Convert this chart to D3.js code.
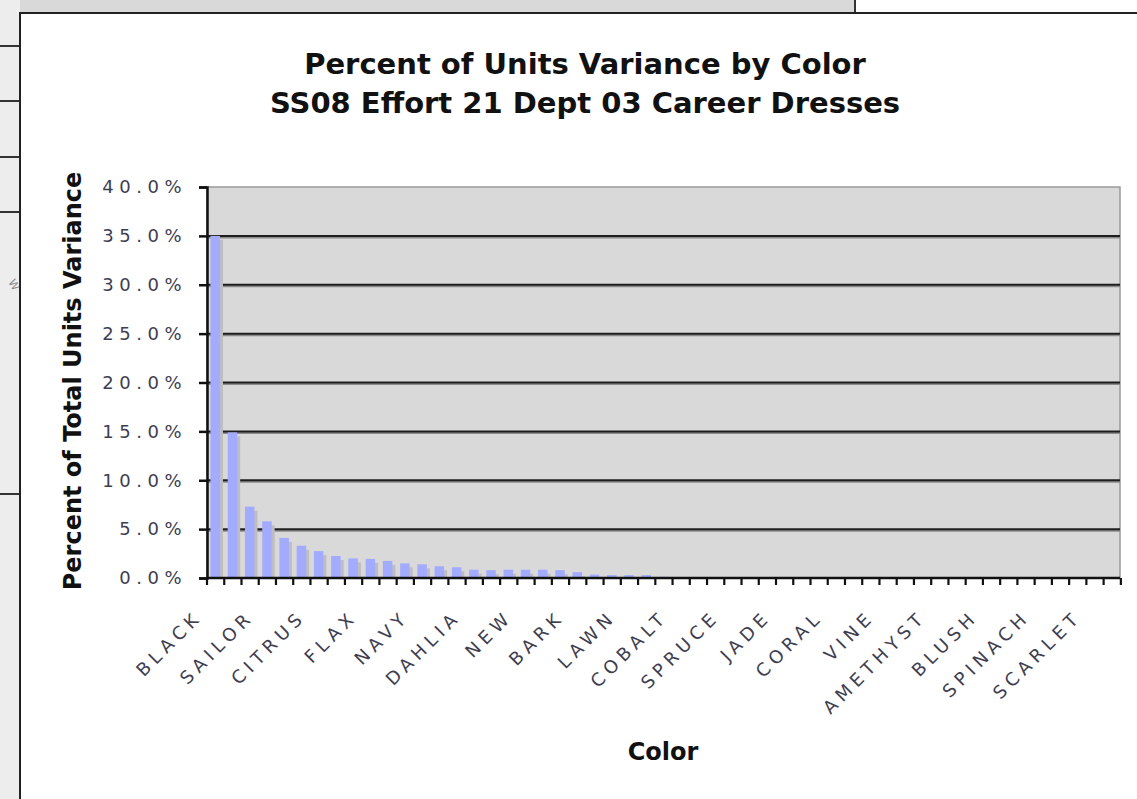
<!DOCTYPE html>
<html>
<head>
<meta charset="utf-8">
<script src="https://cdn.jsdelivr.net/npm/d3@7/dist/d3.min.js"></script>
<style>
  html, body { margin: 0; padding: 0; background: #fff; }
  svg { display: block; }
</style>
</head>
<body>
<svg id="chart" width="1137" height="799"></svg>
<script>
// colour names in chart order (only every third one is labelled on the axis)
var colors = [
  'BLACK', 'WHITE', 'IVORY', 'SAILOR', 'KHAKI', 'STONE', 'CITRUS', 'TAUPE', 'RED',
  'FLAX', 'CAMEL', 'SAND', 'NAVY', 'BLUE', 'PINK', 'DAHLIA', 'MOSS', 'OLIVE',
  'NEW', 'CREAM', 'ROSE', 'BARK', 'MOCHA', 'SKY', 'LAWN', 'MINT', 'LILAC',
  'COBALT', 'PLUM', 'SAGE', 'SPRUCE', 'TEAL', 'AQUA', 'JADE', 'PEACH', 'MELON',
  'CORAL', 'BERRY', 'WINE', 'VINE', 'FERN', 'LIME', 'AMETHYST', 'ORCHID', 'GRAPE',
  'BLUSH', 'SHELL', 'PEARL', 'SPINACH', 'KELP', 'TOMATO', 'SCARLET', 'RUBY'
];

// percent of total units variance (fraction)
var variance = [
  0.350, 0.149, 0.073, 0.058, 0.041, 0.033, 0.0275, 0.0225, 0.020,
  0.0195, 0.0175, 0.015, 0.0140, 0.012, 0.011, 0.0085, 0.008, 0.0085,
  0.0085, 0.0085, 0.008, 0.006, 0.0035, 0.003, 0.003, 0.003, 0.0012,
  0.0010, 0.0010, 0.0008, 0.0008, 0.0007, 0.0006, 0.0006, 0.0005, 0.0005,
  0.0004, 0.0004, 0.0003, 0, 0, 0, 0, 0, 0,
  0, 0, 0, 0, 0, 0, 0, 0
];

var yTicks = [0, 0.05, 0.10, 0.15, 0.20, 0.25, 0.30, 0.35, 0.40];

var titleLines = ['Percent of Units Variance by Color', 'SS08 Effort 21 Dept 03 Career Dresses'];

(function () {
  var svg = d3.select('#chart');
  var plotLeft = 207, plotRight = 1120, plotTop = 187, plotBottom = 578;
  var font = 'Verdana, "DejaVu Sans", sans-serif';

  // spreadsheet behind the chart
  svg.append('rect').attr('x', 0).attr('y', 0).attr('width', 1137).attr('height', 13).attr('fill', '#d9d9d9');
  svg.append('rect').attr('x', 0).attr('y', 0).attr('width', 20).attr('height', 799).attr('fill', '#ededed');
  [46, 101, 157, 212, 494].forEach(function (yy) {
    svg.append('line').attr('x1', 0).attr('x2', 20).attr('y1', yy).attr('y2', yy)
      .attr('stroke', '#333').attr('stroke-width', 2);
  });
  svg.append('rect').attr('x', 856).attr('y', 0).attr('width', 281).attr('height', 13).attr('fill', '#fff');
  svg.append('line').attr('x1', 855).attr('x2', 855).attr('y1', 0).attr('y2', 13).attr('stroke', '#333').attr('stroke-width', 2);
  svg.append('text').attr('transform', 'translate(8,282) rotate(60)').attr('font-family', font).attr('font-size', 11)
    .attr('fill', '#888').text('W');

  // chart sheet
  svg.append('rect').attr('x', 20).attr('y', 13).attr('width', 1117).attr('height', 786).attr('fill', '#fff');
  svg.append('path').attr('d', 'M20,799V13H1137').attr('fill', 'none').attr('stroke', '#222').attr('stroke-width', 2);

  var x = d3.scaleBand().domain(colors).range([plotLeft, plotRight]).paddingInner(0.45).paddingOuter(0.2);
  var y = d3.scaleLinear().domain([0, 0.40]).range([plotBottom, plotTop]);

  // plot area
  svg.append('rect').attr('x', plotLeft).attr('y', plotTop)
    .attr('width', plotRight - plotLeft).attr('height', plotBottom - plotTop)
    .attr('fill', '#d9d9d9').attr('stroke', '#9a9a9a').attr('stroke-width', 1.5);

  // gridlines
  var inner = yTicks.filter(function (d) { return d > 0 && d < 0.40; });
  var grid = svg.append('g');
  grid.selectAll('line.shadow').data(inner).join('line').attr('class', 'shadow')
    .attr('x1', plotLeft).attr('x2', plotRight)
    .attr('y1', function (d) { return y(d) + 1.5; }).attr('y2', function (d) { return y(d) + 1.5; })
    .attr('stroke', '#8a8a8a').attr('stroke-width', 2);
  grid.selectAll('line.major').data(inner).join('line').attr('class', 'major')
    .attr('x1', plotLeft).attr('x2', plotRight)
    .attr('y1', function (d) { return y(d); }).attr('y2', function (d) { return y(d); })
    .attr('stroke', '#1e1e1e').attr('stroke-width', 2);

  // bars with a soft shadow
  var bars = svg.append('g');
  bars.selectAll('rect.shadow').data(variance).join('rect').attr('class', 'shadow')
    .attr('x', function (d, i) { return x(colors[i]) + 3; })
    .attr('y', function (d) { return y(d) + 4; })
    .attr('width', x.bandwidth())
    .attr('height', function (d) { return Math.max(0, plotBottom - y(d) - 4); })
    .attr('fill', '#bdbdc2');
  bars.selectAll('rect.bar').data(variance).join('rect').attr('class', 'bar')
    .attr('x', function (d, i) { return x(colors[i]); })
    .attr('y', function (d) { return y(d); })
    .attr('width', x.bandwidth())
    .attr('height', function (d) { return plotBottom - y(d); })
    .attr('fill', '#a3abff');

  // y axis
  var yAxis = d3.axisLeft(y).tickValues(yTicks).tickSize(8).tickFormat(d3.format('.1%'));
  var gy = svg.append('g').attr('transform', 'translate(' + plotLeft + ',0)').call(yAxis);
  gy.select('.domain').attr('stroke', '#111').attr('stroke-width', 2.5);
  gy.selectAll('.tick line').attr('stroke', '#111').attr('stroke-width', 2.5);
  gy.selectAll('.tick text')
    .attr('x', -20)
    .attr('font-family', font)
    .attr('font-size', 18)
    .attr('letter-spacing', 5.5)
    .attr('fill', '#3e3e50');

  // x axis: ticks at category boundaries
  var bounds = d3.range(colors.length + 1).map(function (i) { return plotLeft + i * x.step(); });
  var gx = svg.append('g');
  gx.append('line').attr('x1', plotLeft).attr('x2', plotRight).attr('y1', plotBottom).attr('y2', plotBottom)
    .attr('stroke', '#111').attr('stroke-width', 2.5);
  gx.selectAll('line.tick').data(bounds).join('line').attr('class', 'tick')
    .attr('x1', function (d) { return d; }).attr('x2', function (d) { return d; })
    .attr('y1', plotBottom).attr('y2', plotBottom + 7)
    .attr('stroke', '#111').attr('stroke-width', 2.2);

  var labelled = colors.filter(function (c, i) { return i % 3 === 0; });
  gx.selectAll('text').data(labelled).join('text')
    .attr('transform', function (d) {
      var cx = x(d) + x.bandwidth() / 2 - 12;
      return 'translate(' + cx + ',' + (plotBottom + 40) + ') rotate(-45)';
    })
    .attr('text-anchor', 'end')
    .attr('font-family', font)
    .attr('font-size', 18)
    .attr('letter-spacing', 5)
    .attr('fill', '#3e3e50')
    .text(function (d) { return d; });

  // titles
  svg.selectAll('text.title').data(titleLines).join('text').attr('class', 'title')
    .attr('x', 585).attr('y', function (d, i) { return 74 + i * 39; })
    .attr('text-anchor', 'middle')
    .attr('font-family', font)
    .attr('font-weight', 'bold').attr('font-size', 29).attr('fill', '#111')
    .text(function (d) { return d; });

  svg.append('text')
    .attr('transform', 'translate(81,381) rotate(-90)')
    .attr('text-anchor', 'middle')
    .attr('font-family', font)
    .attr('font-weight', 'bold').attr('font-size', 24).attr('fill', '#111')
    .text('Percent of Total Units Variance');

  svg.append('text')
    .attr('x', 663).attr('y', 760)
    .attr('text-anchor', 'middle')
    .attr('font-family', font)
    .attr('font-weight', 'bold').attr('font-size', 24).attr('fill', '#111')
    .text('Color');
})();
</script>
</body>
</html>
